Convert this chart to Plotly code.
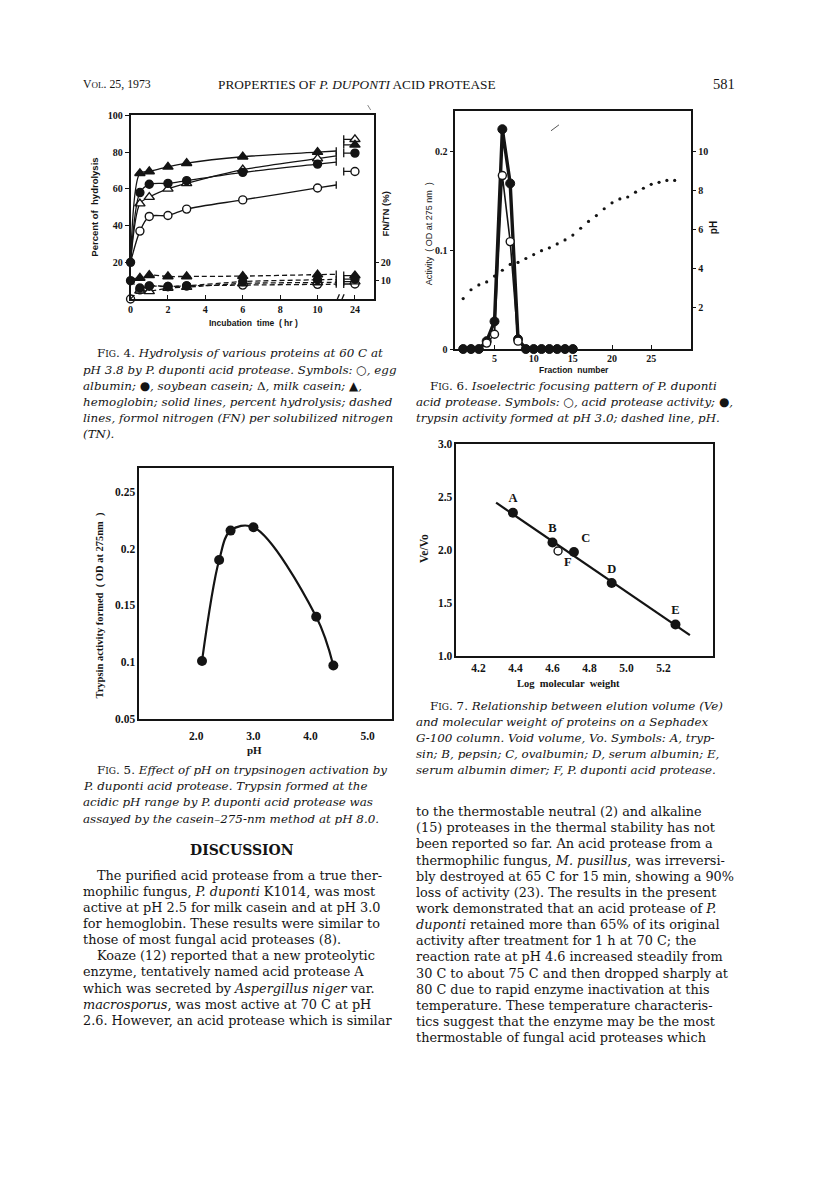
import plotly.graph_objects as go

PAGE_W, PAGE_H = 816, 1178
BODY_MARGIN = 8  # the browser's default body margin shifts the figure
INK = "#141414"

# ---------------- Fig. 4: hydrolysis of proteins ----------------
HOURS = [0, 0.5, 1, 2, 3, 6, 10, 24]
HOUR_TICKS = ["0", "2", "4", "6", "8", "10", "24"]
HYD_EGG = [20, 37, 45, 45.5, 49, 54, 60.5, 69.5]
HYD_SOY = [20, 58, 62.5, 63, 64.5, 69, 73.5, 79.5]
HYD_MILK = [20, 52, 55.5, 60, 63, 70.5, 76.5, 87]
HYD_HEMO = [20, 68.5, 69.5, 72, 74, 77.5, 80, 84]
FN_EGG = [0, 5, 7.2, 6.8, 7.2, 7.6, 8, 8.2]
FN_SOY = [10, 6, 7, 6.8, 7.2, 9.5, 10.5, 10.8]
FN_MILK = [0, 4.5, 4.2, 6, 6.5, 8.5, 9, 9.5]
FN_HEMO = [11, 11.5, 13, 12.3, 12.3, 12.5, 13.3, 12.8]

# ---------------- Fig. 6: isoelectric focusing ----------------
FRACTIONS = list(range(1, 16))
TRYPSIN_ACT = [0, 0, 0, 0.008, 0.028, 0.223, 0.168, 0.01, 0, 0, 0, 0, 0, 0, 0]
PROTEASE_FRAC = [3, 4, 5, 6, 7, 8, 9]
PROTEASE_ACT = [0, 0.006, 0.015, 0.176, 0.109, 0.008, 0]
PH_FRAC = list(range(1, 29))
PH_VALUES = [2.45, 2.9, 3.15, 3.3, 3.6, 3.9, 4.2, 4.3, 4.5, 4.7, 4.9, 5.05, 5.25, 5.45,
             5.7, 6.05, 6.4, 6.7, 7.05, 7.35, 7.55, 7.65, 7.9, 8.1, 8.3, 8.4, 8.5, 8.5]

# ---------------- Fig. 5: pH and trypsinogen activation ----------------
PH_ACT = [2.1, 2.4, 2.6, 3.0, 4.1, 4.4]
TRYPSIN_FORMED = [0.101, 0.19, 0.216, 0.219, 0.14, 0.097]

# ---------------- Fig. 7: elution volume vs log MW ----------------
STD_NAMES = ["A", "B", "C", "D", "E"]
STD_LOGMW = [4.386, 4.60, 4.716, 4.92, 5.265]
STD_VEVO = [2.35, 2.07, 1.98, 1.69, 1.30]
PROT_LOGMW = [4.63]
PROT_VEVO = [1.99]
FIT_LOGMW = [4.295, 5.343]
FIT_VEVO = [2.444, 1.199]

FIG_W = PAGE_W - BODY_MARGIN
FIG_H = PAGE_H - BODY_MARGIN


def px(x):
    return (x - BODY_MARGIN) / FIG_W


def py(y):
    return 1 - (y - BODY_MARGIN) / FIG_H


TICK_FONT = dict(family="Liberation Serif", size=10, color=INK, weight="bold")
TICK_FONT_L = dict(family="Liberation Serif", size=11.5, color=INK, weight="bold")
BREAK_L, BREAK_R, POS_24 = 11.0, 11.4, 12.0


def hour_pos(t):
    return t if t <= 10 else POS_24


fig = go.Figure()

# ---- Fig. 4 traces (solid = % hydrolysis on y, dashed = FN/TN on y2)
series4 = [
    (HYD_EGG, "circle", True, "y", False),
    (HYD_MILK, "triangle-up", True, "y", False),
    (HYD_HEMO, "triangle-up", False, "y", False),
    (HYD_SOY, "circle", False, "y", True),
    (FN_EGG, "circle", True, "y2", True),
    (FN_MILK, "triangle-up", True, "y2", False),
    (FN_HEMO, "triangle-up", False, "y2", False),
    (FN_SOY, "circle", False, "y2", True),
]
for vals, sym, is_open, yax, mark_zero in series4:
    dash = "solid" if yax == "y" else "5px,3px"
    v_break = vals[-2] + (vals[-2] - vals[-3]) / 4 * (BREAK_L - 10)
    xs = HOURS[:-1] + [BREAK_L]
    ys = vals[:-1] + [v_break]
    fig.add_trace(go.Scatter(x=xs, y=ys, mode="lines", xaxis="x", yaxis=yax,
                             line=dict(color=INK, width=1.3, dash=dash,
                                       shape="spline", smoothing=0.8),
                             hoverinfo="skip"))
    v24 = vals[-1]
    bx = [BREAK_L, BREAK_L, None, BREAK_R, BREAK_R, None, BREAK_R, POS_24]
    by = [v_break - 2, v_break + 2, None, v24 - 2.2, v24 + 2.2, None, v24, v24]
    fig.add_trace(go.Scatter(x=bx, y=by, mode="lines", xaxis="x", yaxis=yax,
                             line=dict(color=INK, width=1.3), hoverinfo="skip"))
    mx = [hour_pos(t) for t in HOURS[1:]]
    my = vals[1:]
    if mark_zero:
        mx = [0] + mx
        my = [vals[0]] + my
    fig.add_trace(go.Scatter(
        x=mx, y=my, mode="markers", xaxis="x", yaxis=yax, cliponaxis=False,
        marker=dict(symbol=sym, size=8 if sym == "circle" else 9,
                    color="white" if is_open else INK,
                    line=dict(color=INK, width=1.4)),
        hoverinfo="skip"))

# ---- Fig. 6 traces
fig.add_trace(go.Scatter(x=PH_FRAC, y=PH_VALUES, mode="markers", xaxis="x2", yaxis="y4",
                         marker=dict(size=3.2, color=INK), hoverinfo="skip"))
fig.add_trace(go.Scatter(x=FRACTIONS, y=TRYPSIN_ACT, mode="lines", xaxis="x2", yaxis="y3",
                         line=dict(color=INK, width=3.4), hoverinfo="skip"))
fig.add_trace(go.Scatter(x=PROTEASE_FRAC, y=PROTEASE_ACT, mode="lines", xaxis="x2", yaxis="y3",
                         line=dict(color=INK, width=1.6), hoverinfo="skip"))
fig.add_trace(go.Scatter(x=FRACTIONS, y=TRYPSIN_ACT, mode="markers", xaxis="x2", yaxis="y3",
                         cliponaxis=False,
                         marker=dict(size=9, color=INK, line=dict(color=INK, width=1)),
                         hoverinfo="skip"))
fig.add_trace(go.Scatter(x=PROTEASE_FRAC[1:-1], y=PROTEASE_ACT[1:-1], mode="markers",
                         xaxis="x2", yaxis="y3", cliponaxis=False,
                         marker=dict(size=8, color="white", line=dict(color=INK, width=1.4)),
                         hoverinfo="skip"))

# ---- Fig. 5 traces
fig.add_trace(go.Scatter(x=PH_ACT, y=TRYPSIN_FORMED, mode="lines", xaxis="x3", yaxis="y5",
                         line=dict(color=INK, width=2.2, shape="spline", smoothing=1.0),
                         hoverinfo="skip"))
fig.add_trace(go.Scatter(x=PH_ACT, y=TRYPSIN_FORMED, mode="markers", xaxis="x3", yaxis="y5",
                         marker=dict(size=10, color=INK), hoverinfo="skip"))

# ---- Fig. 7 traces
fig.add_trace(go.Scatter(x=FIT_LOGMW, y=FIT_VEVO, mode="lines", xaxis="x4", yaxis="y6",
                         line=dict(color=INK, width=2.2), hoverinfo="skip"))
fig.add_trace(go.Scatter(x=STD_LOGMW, y=STD_VEVO, mode="markers+text", xaxis="x4", yaxis="y6",
                         text=[f"<b>{n}</b>" for n in STD_NAMES],
                         textposition=["top center", "top center", "top right", "top center", "top center"],
                         textfont=dict(family="Liberation Serif", size=12.5, color=INK),
                         marker=dict(size=10, color=INK), hoverinfo="skip"))
fig.add_trace(go.Scatter(x=PROT_LOGMW, y=PROT_VEVO, mode="markers+text", xaxis="x4", yaxis="y6",
                         text=["<b>F</b>"], textposition="bottom right",
                         textfont=dict(family="Liberation Serif", size=12.5, color=INK),
                         marker=dict(size=8, color="white", line=dict(color=INK, width=1.4)),
                         hoverinfo="skip"))


def axis(x0, x1, rng, **kw):
    d = dict(domain=[x0, x1], range=rng, showline=True, linecolor=INK, linewidth=1.5,
             mirror=True, showgrid=False, zeroline=False, ticks="outside", ticklen=4,
             tickwidth=1.3, tickcolor=INK, tickfont=TICK_FONT, fixedrange=True)
    d.update(kw)
    return d


def side_axis(over, anchor, rng, vals):
    return dict(overlaying=over, side="right", anchor=anchor, range=rng, showline=False,
                showgrid=False, zeroline=False, ticks="outside", ticklen=4, tickwidth=1.3,
                tickcolor=INK, tickvals=vals, tickfont=TICK_FONT, fixedrange=True)


fig.update_layout(
    width=FIG_W, height=FIG_H, margin=dict(l=0, r=0, t=0, b=0),
    paper_bgcolor="white", plot_bgcolor="white", showlegend=False,
    # Fig. 4
    xaxis=axis(px(128), px(372), [0, 13], anchor="y", ticks="inside",
               tickvals=[0, 2, 4, 6, 8, 10, 12], ticktext=HOUR_TICKS),
    yaxis=axis(py(296), py(110.5), [0, 100], anchor="x", tickvals=[20, 40, 60, 80, 100]),
    yaxis2=side_axis("y", "x", [0, 100], [10, 20]),
    # Fig. 6
    xaxis2=axis(px(454), px(690.7), [0, 30.1], anchor="y3", ticks="inside",
                tickvals=[5, 10, 15, 20, 25], ticklabelstandoff=-1),
    yaxis3=axis(py(346.5), py(106.5), [0, 0.241], anchor="x2",
                tickvals=[0, 0.1, 0.2], ticktext=["0", "0.1", "0.2"]),
    yaxis4=side_axis("y3", "x2", [-0.135, 12.03], [2, 4, 6, 8, 10]),
    # Fig. 5
    xaxis3=axis(px(136.7), px(390), [1.0, 5.42], anchor="y5", tickvals=[2, 3, 4, 5],
                ticktext=["2.0", "3.0", "4.0", "5.0"], ticks="", tickfont=TICK_FONT_L,
                ticklabelstandoff=6),
    yaxis5=axis(py(720), py(467), [0.05, 0.271], anchor="x3",
                tickvals=[0.05, 0.1, 0.15, 0.2, 0.25], tickfont=TICK_FONT_L,
                ticktext=["0.05", "0.1", "0.15", "0.2", "0.25"], ticks=""),
    # Fig. 7
    xaxis4=axis(px(455), px(713), [4.08, 5.47], anchor="y6",
                tickvals=[4.2, 4.4, 4.6, 4.8, 5.0, 5.2], tickfont=TICK_FONT_L,
                ticktext=["4.2", "4.4", "4.6", "4.8", "5.0", "5.2"], ticks=""),
    yaxis6=axis(py(657), py(442), [1.0, 3.0], anchor="x4",
                tickvals=[1.0, 1.5, 2.0, 2.5, 3.0], tickfont=TICK_FONT_L,
                ticktext=["1.0", "1.5", "2.0", "2.5", "3.0"], ticks=""),
)

# axis break marks on fig. 4 x-axis
for x0 in (10.95, 11.2):
    fig.add_shape(type="line", xref="x", yref="y", x0=x0, x1=x0 + 0.22, y0=-2.6, y1=2.6,
                  line=dict(color=INK, width=1.3))
# stray pen marks on the scan
fig.add_shape(type="line", xref="paper", yref="paper", x0=px(550), x1=px(558),
              y0=py(126), y1=py(120), line=dict(color="#555", width=1))
fig.add_shape(type="line", xref="paper", yref="paper", x0=px(366), x1=px(369),
              y0=py(100), y1=py(105), line=dict(color="#888", width=1))

annotations = []


def text(x, y, s, size=12.5, family="DejaVu Serif", anchor="left", angle=0, color=INK):
    annotations.append(dict(x=px(x), y=py(y), xref="paper", yref="paper", text=s,
                            showarrow=False, xanchor=anchor, yanchor="middle",
                            textangle=angle, font=dict(family=family, size=size, color=color)))


# axis titles
LAB = "Liberation Sans"
text(92, 203, "<b>Percent of  hydrolysis</b>", 9.5, LAB, "center", -90)
text(384, 210, "<b>FN/TN (%)</b>", 9.5, LAB, "center", -90)
text(251, 320, "<b>Incubation  time  ( hr )</b>", 8.5, LAB, "center")
text(427, 230, "Activity  ( OD at 275 nm  )", 9, LAB, "center", -90)
text(713, 224, "<b>pH</b>", 10, LAB, "center", -90)
text(573, 368, "<b>Fraction  number</b>", 8.5, LAB, "center")
text(97, 605, "<b>Trypsin activity formed  ( OD at 275nm  )</b>", 10.5, "Liberation Serif", "center", -90)
text(252, 752, "<b>pH</b>", 11, "Liberation Serif", "center")
text(423, 548, "<b>Ve/Vo</b>", 11.5, "Liberation Serif", "center", -90)
text(568, 684, "<b>Log  molecular  weight</b>", 10.5, "Liberation Serif", "center")

# running head
LX, RX = 78, 413   # column left edges (annotation box edge; text sits ~3px inside)
text(LX, 79, "V<span style='font-size:9px'>OL</span>. 25, 1973", 11.8, "Liberation Serif")
text(355, 79, "PROPERTIES OF <i>P. DUPONTI</i> ACID PROTEASE", 13.3, "Liberation Serif", "center")
text(737, 79, "581", 14.5, "Liberation Serif", "right")

SC = "<span style='font-size:9px'>IG</span>"
CAP = 11.9
CAP_STEP = 16.3
cap4 = [
    (LX + 14, f"F{SC}. 4. <i>Hydrolysis of various proteins at 60 C at</i>"),
    (LX, "<i>pH 3.8 by P. duponti acid protease. Symbols:</i> ○<i>, egg</i>"),
    (LX, "<i>albumin;</i> ●<i>, soybean casein;</i> Δ<i>, milk casein;</i> ▲<i>,</i>"),
    (LX, "<i>hemoglobin; solid lines, percent hydrolysis; dashed</i>"),
    (LX, "<i>lines, formol nitrogen (FN) per solubilized nitrogen</i>"),
    (LX, "<i>(TN).</i>"),
]
for i, (x, s) in enumerate(cap4):
    text(x, 351 + CAP_STEP * i, s, CAP)

cap6 = [
    (RX + 14, f"F{SC}. 6. <i>Isoelectric focusing pattern of P. duponti</i>"),
    (RX, "<i>acid protease. Symbols:</i> ○<i>, acid protease activity;</i> ●<i>,</i>"),
    (RX, "<i>trypsin activity formed at pH 3.0; dashed line, pH.</i>"),
]
for i, (x, s) in enumerate(cap6):
    text(x, 384 + CAP_STEP * i, s, CAP)

cap5 = [
    (LX + 14, f"F{SC}. 5. <i>Effect of pH on trypsinogen activation by</i>"),
    (LX, "<i>P. duponti acid protease. Trypsin formed at the</i>"),
    (LX, "<i>acidic pH range by P. duponti acid protease was</i>"),
    (LX, "<i>assayed by the casein–275-nm method at pH 8.0.</i>"),
]
for i, (x, s) in enumerate(cap5):
    text(x, 772 + CAP_STEP * i, s, CAP)

cap7 = [
    (RX + 14, f"F{SC}. 7. <i>Relationship between elution volume (Ve)</i>"),
    (RX, "<i>and molecular weight of proteins on a Sephadex</i>"),
    (RX, "<i>G-100 column. Void volume, Vo. Symbols: A, tryp-</i>"),
    (RX, "<i>sin; B, pepsin; C, ovalbumin; D, serum albumin; E,</i>"),
    (RX, "<i>serum albumin dimer; F, P. duponti acid protease.</i>"),
]
for i, (x, s) in enumerate(cap7):
    text(x, 707 + CAP_STEP * i, s, CAP)

text(240, 853, "<b>DISCUSSION</b>", 14, "DejaVu Serif", "center")

BODY = 12.85
BODY_STEP = 16.3
left_body = [
    (LX + 14, "The purified acid protease from a true ther-"),
    (LX, "mophilic fungus, <i>P. duponti</i> K1014, was most"),
    (LX, "active at pH 2.5 for milk casein and at pH 3.0"),
    (LX, "for hemoglobin. These results were similar to"),
    (LX, "those of most fungal acid proteases (8)."),
    (LX + 14, "Koaze (12) reported that a new proteolytic"),
    (LX, "enzyme, tentatively named acid protease A"),
    (LX, "which was secreted by <i>Aspergillus niger</i> var."),
    (LX, "<i>macrosporus</i>, was most active at 70 C at pH"),
    (LX, "2.6. However, an acid protease which is similar"),
]
for i, (x, s) in enumerate(left_body):
    text(x, 878 + BODY_STEP * i, s, BODY)

right_body = [
    "to the thermostable neutral (2) and alkaline",
    "(15) proteases in the thermal stability has not",
    "been reported so far. An acid protease from a",
    "thermophilic fungus, <i>M. pusillus</i>, was irreversi-",
    "bly destroyed at 65 C for 15 min, showing a 90%",
    "loss of activity (23). The results in the present",
    "work demonstrated that an acid protease of <i>P.</i>",
    "<i>duponti</i> retained more than 65% of its original",
    "activity after treatment for 1 h at 70 C; the",
    "reaction rate at pH 4.6 increased steadily from",
    "30 C to about 75 C and then dropped sharply at",
    "80 C due to rapid enzyme inactivation at this",
    "temperature. These temperature characteris-",
    "tics suggest that the enzyme may be the most",
    "thermostable of fungal acid proteases which",
]
for i, s in enumerate(right_body):
    text(RX, 814 + BODY_STEP * i, s, BODY)

fig.update_layout(annotations=annotations)
fig.write_html("out.html")
